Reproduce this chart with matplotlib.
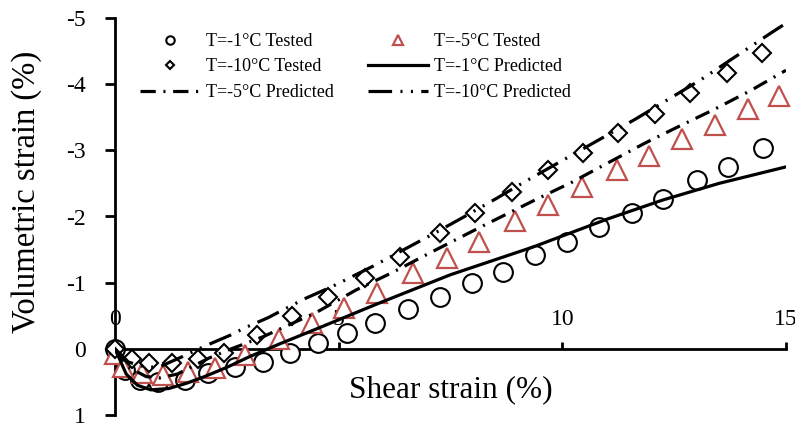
import matplotlib
matplotlib.use('Agg')
import matplotlib.pyplot as plt

plt.rcParams['font.family'] = ['Liberation Serif', 'DejaVu Serif']
plt.rcParams['axes.unicode_minus'] = False
plt.rcParams['lines.scale_dashes'] = False

# ---- data (shear strain %, volumetric strain %) ----
x_t1 = [0, 0.22, 0.56, 0.96, 1.56, 2.08, 2.68, 3.31, 3.91, 4.54, 5.19, 5.81, 6.55,
        7.27, 7.98, 8.67, 9.39, 10.11, 10.82, 11.56, 12.25, 13.01, 13.70, 14.49]
v_t1 = [0.0, 0.32, 0.47, 0.50, 0.47, 0.36, 0.27, 0.20, 0.06, -0.09, -0.24, -0.39, -0.60,
        -0.79, -1.00, -1.16, -1.42, -1.62, -1.84, -2.05, -2.27, -2.55, -2.75, -3.04]

x_t5 = [0, 0.18, 0.60, 1.07, 1.63, 2.24, 2.91, 3.67, 4.40, 5.12, 5.86, 6.66, 7.42,
        8.14, 8.94, 9.68, 10.44, 11.22, 11.94, 12.68, 13.41, 14.15, 14.84]
v_t5 = [0.08, 0.27, 0.36, 0.39, 0.35, 0.29, 0.09, -0.15, -0.39, -0.62, -0.85, -1.15, -1.37,
        -1.62, -1.93, -2.18, -2.45, -2.70, -2.92, -3.17, -3.38, -3.62, -3.82]

x_t10 = [0, 0.37, 0.77, 1.27, 1.85, 2.44, 3.18, 3.96, 4.76, 5.59, 6.37, 7.27, 8.05,
         8.88, 9.68, 10.46, 11.25, 12.07, 12.86, 13.68, 14.46]
v_t10 = [0.0, 0.16, 0.22, 0.21, 0.16, 0.07, -0.21, -0.49, -0.79, -1.07, -1.39, -1.75, -2.05,
         -2.37, -2.70, -2.96, -3.26, -3.55, -3.87, -4.17, -4.47]

x_p1 = [0, 0.25, 0.5, 0.8, 1.2, 1.6, 2.0, 2.5, 3.0, 3.7, 4.5, 5.9, 7.5, 9.35, 11.0, 12.25, 13.5, 15]
v_p1 = [0, 0.38, 0.55, 0.62, 0.60, 0.52, 0.42, 0.28, 0.12, -0.08, -0.30, -0.69, -1.12, -1.54,
        -1.96, -2.25, -2.50, -2.75]

x_p5 = [0, 0.3, 0.7, 1.0, 1.4, 2.1, 2.6, 3.3, 4.5, 5.39, 6.22, 7.04, 8.2, 9.39, 10.22, 11.02,
        11.85, 12.54, 13.37, 14.2, 15]
v_p5 = [0, 0.28, 0.42, 0.44, 0.38, 0.14, 0.0, -0.18, -0.55, -0.89, -1.16, -1.45, -1.85, -2.25,
        -2.52, -2.81, -3.11, -3.34, -3.61, -3.90, -4.21]

x_p10 = [0, 0.3, 0.7, 1.0, 1.5, 1.97, 2.28, 2.59, 2.91, 3.42, 3.76, 4.25, 4.85, 5.77, 6.57,
         7.04, 7.71, 8.52, 9.12, 10.22, 11.63, 13.08, 14.7, 15]
v_p10 = [0, 0.20, 0.28, 0.27, 0.12, -0.03, -0.12, -0.21, -0.32, -0.47, -0.59, -0.76, -0.94,
         -1.25, -1.54, -1.71, -1.96, -2.27, -2.51, -2.93, -3.47, -4.06, -4.79, -4.92]

labels = ['T=-1°C Tested', 'T=-5°C Tested', 'T=-10°C Tested',
          'T=-1°C Predicted', 'T=-5°C Predicted', 'T=-10°C Predicted']
x_ticks = [0, 5, 10, 15]
y_ticks = [-5, -4, -3, -2, -1, 0, 1]

red = '#C0504D'

fig = plt.figure(figsize=(7.95, 4.23), dpi=100)
ax = fig.add_axes([115 / 795, 8 / 423, (786 - 115) / 795, (415 - 18) / 423])
ax.set_xlim(0, 15)
ax.set_ylim(1, -5)

h1, = ax.plot(x_t1, v_t1, 'o', ms=13.5, mfc='white', mec='black', mew=1.5,
              ls='none', zorder=3, clip_on=False, label=labels[0])
h2, = ax.plot(x_t5, v_t5, '^', ms=14.5, mfc='white', mec=red, mew=1.6,
              ls='none', zorder=3.1, clip_on=False, label=labels[1])
h3, = ax.plot(x_t10, v_t10, 'D', ms=9.5, mfc='white', mec='black', mew=1.5,
              ls='none', zorder=3.2, clip_on=False, label=labels[2])
h4, = ax.plot(x_p1, v_p1, '-', color='black', lw=2.3, zorder=4, label=labels[3])
h5, = ax.plot(x_p5, v_p5, color='black', lw=2.3, dashes=[11, 5.5, 1.5, 5.5],
              zorder=4, label=labels[4])
h6, = ax.plot(x_p10, v_p10, color='black', lw=2.3, dashes=[17, 6, 1.5, 6, 1.5, 6],
              zorder=4, label=labels[5])

for s in ['top', 'right']:
    ax.spines[s].set_visible(False)
ax.spines['bottom'].set_position(('data', 0))
ax.spines['bottom'].set_linewidth(2)
ax.spines['left'].set_linewidth(2)
ax.spines['bottom'].set_zorder(2.6)

ax.set_xticks(x_ticks)
ax.set_xticklabels([str(t) for t in x_ticks])
ax.set_yticks(y_ticks)
ax.set_yticklabels([str(t) for t in y_ticks])
ax.tick_params(axis='x', direction='in', length=5, width=2, labelsize=17, pad=-29)
ax.tick_params(axis='y', direction='out', length=7, width=2, labelsize=17, pad=14)

handles = [h1, h3, h5, h2, h4, h6]
leg = ax.legend(handles, [h.get_label() for h in handles], ncol=2, frameon=False,
                loc='upper left', bbox_to_anchor=(140 / 795, 1 - 33 / 423),
                bbox_transform=fig.transFigure, fontsize=13, markerscale=0.45,
                handlelength=3.3, handletextpad=0.35, columnspacing=1.9,
                labelspacing=0.47, borderpad=0, borderaxespad=0)

fig.text(451 / 795, 1 - 390 / 423, 'Shear strain (%)', ha='center', va='center',
         fontsize=22.5)
fig.text(27 / 795, 1 - 192 / 423, 'Volumetric strain (%)', rotation=90,
         ha='center', va='center', fontsize=23.5)

fig.savefig('out.png', dpi=100)
